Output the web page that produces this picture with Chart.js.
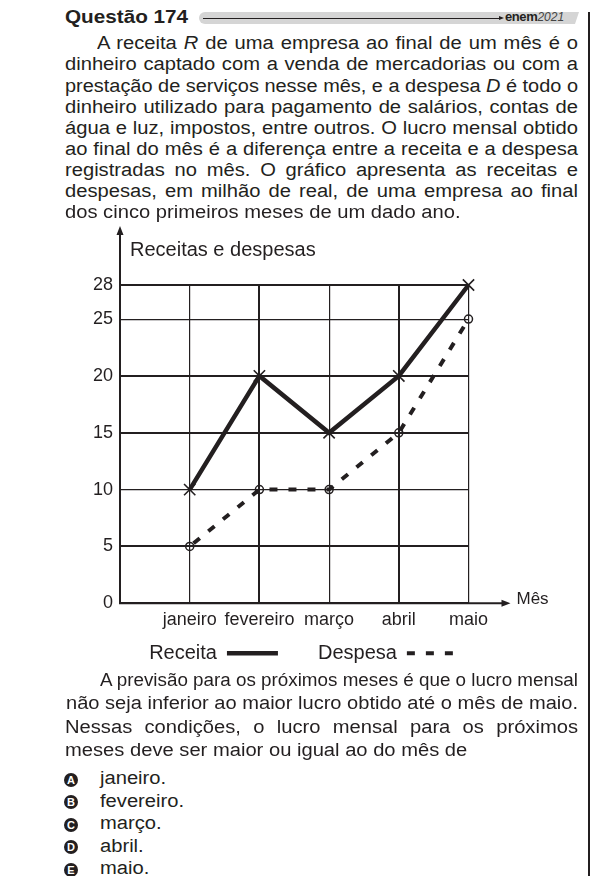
<!DOCTYPE html>
<html lang="pt-BR">
<head>
<meta charset="utf-8">
<title>Questão 174</title>
<script src="https://cdn.jsdelivr.net/npm/chart.js@4.4.1/dist/chart.umd.min.js"></script>
<style>
  html, body { margin: 0; padding: 0; background: #fff; }
  body { width: 591px; height: 876px; position: relative; overflow: hidden;
         font-family: "Liberation Sans", Arial, sans-serif; color: #231f20; }
  .ln { position: absolute; white-space: nowrap; font-size: 18px; line-height: 21px; transform-origin: 0 0; }
  .ln.bold { font-weight: bold; }
  .badge { position: absolute; left: 64px; width: 14px; height: 14px; border-radius: 50%;
           background: #231f20; color: #fff; font-weight: bold; font-size: 11px;
           line-height: 14px; text-align: center; }
  #band { position: absolute; left: 199px; top: 12px; width: 380px; height: 12px; background: #d5d5d5;
          border-radius: 6px 0 0 6px; clip-path: polygon(0 0, 100% 0, calc(100% - 4px) 100%, 0 100%); }
  #rule { position: absolute; left: 203px; top: 17.5px; width: 296px; height: 1px; background: #231f20; }
  #ruleTip { position: absolute; left: 499px; top: 15.5px; width: 0; height: 0;
             border-left: 5px solid #231f20; border-top: 2.5px solid transparent; border-bottom: 2.5px solid transparent; }
  #enem { position: absolute; left: 505px; top: 10px; font-size: 13px; line-height: 13px; white-space: nowrap; }
  #enem b { letter-spacing: -0.4px; }
  #enem i { font-size: 12px; color: #444; }
  #edge { position: absolute; left: 588px; top: 12px; width: 2px; height: 864px; background: #231f20; }
  #grafico { position: absolute; left: 0; top: 220px; }
</style>
</head>
<body>
<div id="band"></div>
<div id="rule"></div>
<div id="ruleTip"></div>
<div id="enem"><b>enem</b><i>2021</i></div>
<div id="edge"></div>
<canvas id="grafico" width="591" height="460"></canvas>

<script>
// chart data
const months = ['janeiro', 'fevereiro', 'março', 'abril', 'maio'];
const receita = [10, 20, 15, 20, 28];
const despesa = [5, 10, 10, 15, 25];
const yTicks = [0, 5, 10, 15, 20, 25, 28];

// style
const ink = '#231f20';
const font = '"Liberation Sans", Arial, sans-serif';
const thickY = [0, 5, 15, 20, 28];
const thickX = [0, 2, 4];

// page text: [html, left, baseline, justified, max stretch, bold]
const RIGHT = 578;
const textLines = [
  ['Questão 174', 65, 24, false, 1.15, true],
  ['A receita <i>R</i> de uma empresa ao final de um mês é o', 97, 50, true],
  ['dinheiro captado com a venda de mercadorias ou com a', 65, 71.1, true],
  ['prestação de serviços nesse mês, e a despesa <i>D</i> é todo o', 65, 92.2, true],
  ['dinheiro utilizado para pagamento de salários, contas de', 65, 113.3, true],
  ['água e luz, impostos, entre outros. O lucro mensal obtido', 65, 134.4, true],
  ['ao final do mês é a diferença entre a receita e a despesa', 65, 155.5, true],
  ['registradas no mês. O gráfico apresenta as receitas e', 65, 176.6, true],
  ['despesas, em milhão de real, de uma empresa ao final', 65, 197.7, true],
  ['dos cinco primeiros meses de um dado ano.', 65, 218.8, false],
  ['A previsão para os próximos meses é que o lucro mensal', 100, 686.7, true],
  ['não seja inferior ao maior lucro obtido até o mês de maio.', 66, 709.5, false],
  ['Nessas condições, o lucro mensal para os próximos', 65, 734, true],
  ['meses deve ser maior ou igual ao do mês de', 65, 756.5, false],
  ['janeiro.', 100, 785, false],
  ['fevereiro.', 100, 807.5, false],
  ['março.', 100, 830, false],
  ['abril.', 100, 852.5, false],
  ['maio.', 100, 875, false]
];
const badges = [['A', 785], ['B', 807.5], ['C', 830], ['D', 852.5], ['E', 875]];

function placeLine([html, x, base, justify, maxS, bold]) {
  const d = document.createElement('div');
  d.className = bold ? 'ln bold' : 'ln';
  d.innerHTML = html;
  d.style.left = x + 'px';
  d.style.top = (base - 16.7) + 'px';
  document.body.appendChild(d);
  const natural = d.getBoundingClientRect().width;
  const avail = RIGHT - x;
  const s = Math.min(maxS || 1.12, avail / natural);
  if (justify) {
    const spaces = (d.textContent.match(/ /g) || []).length;
    if (spaces) d.style.wordSpacing = ((avail / s - natural) / spaces) + 'px';
  }
  d.style.transform = 'scaleX(' + s + ')';
}
textLines.forEach(placeLine);

badges.forEach(([letter, base]) => {
  const b = document.createElement('div');
  b.className = 'badge';
  b.textContent = letter;
  b.style.top = (base - 12.5) + 'px';
  document.body.appendChild(b);
});

// axes with arrows, axis titles
const axisArrows = {
  id: 'axisArrows',
  afterDraw(chart) {
    const {ctx, chartArea: a, scales: {x, y}} = chart;
    const x0 = x.getPixelForValue(0), y0 = y.getPixelForValue(0);
    const topTip = a.top - 59, rightTip = a.right + 42;
    ctx.save();
    ctx.strokeStyle = ink;
    ctx.fillStyle = ink;
    ctx.lineWidth = 2;
    ctx.beginPath();
    ctx.moveTo(x0, y0 + 1); ctx.lineTo(x0, topTip + 6);
    ctx.moveTo(x0 - 1, y0); ctx.lineTo(rightTip - 6, y0);
    ctx.stroke();
    ctx.beginPath();
    ctx.moveTo(x0, topTip); ctx.lineTo(x0 - 3.5, topTip + 9); ctx.lineTo(x0 + 3.5, topTip + 9); ctx.closePath();
    ctx.moveTo(rightTip, y0); ctx.lineTo(rightTip - 9, y0 - 3.5); ctx.lineTo(rightTip - 9, y0 + 3.5); ctx.closePath();
    ctx.fill();
    ctx.textAlign = 'left';
    ctx.textBaseline = 'alphabetic';
    ctx.font = '20px ' + font;
    ctx.fillText('Receitas e despesas', x0 + 10, a.top - 29);
    ctx.font = '17px ' + font;
    ctx.fillText('Mês', rightTip + 6, y0 + 1);
    ctx.restore();
  }
};

// legend samples follow the dataset line, not the point marker
const lineLegend = chart =>
  Chart.defaults.plugins.legend.labels.generateLabels(chart).map(item => {
    const ds = chart.data.datasets[item.datasetIndex];
    return Object.assign(item, {
      lineWidth: ds.borderWidth,
      lineDash: ds.borderDash || [],
      lineDashOffset: 0,
      lineCap: 'butt',
      strokeStyle: ds.borderColor,
      fillStyle: 'rgba(0,0,0,0)',
      pointStyle: 'line'
    });
  });

const config = {
  type: 'line',
  data: {
    datasets: [{
      label: 'Receita',
      data: receita.map((v, i) => ({x: i + 1, y: v})),
      borderColor: ink,
      backgroundColor: ink,
      borderWidth: 4.5,
      borderJoinStyle: 'miter',
      tension: 0,
      pointStyle: 'crossRot',
      pointRadius: 8,
      pointBorderWidth: 1.6,
      pointBorderColor: ink,
      clip: false
    }, {
      label: 'Despesa',
      data: despesa.map((v, i) => ({x: i + 1, y: v})),
      borderColor: ink,
      backgroundColor: 'rgba(0,0,0,0)',
      borderWidth: 4,
      borderDash: [8, 11],
      borderDashOffset: 14,
      tension: 0,
      pointStyle: 'circle',
      pointRadius: 4,
      pointBorderWidth: 1.5,
      pointBorderColor: ink,
      pointBackgroundColor: 'rgba(0,0,0,0)',
      clip: false
    }]
  },
  options: {
    responsive: false,
    animation: false,
    events: [],
    layout: { padding: { left: 16, right: 0, top: 65, bottom: 6.7 } },
    plugins: {
      tooltip: { enabled: false },
      title: { display: false },
      legend: {
        position: 'bottom',
        align: 'center',
        rtl: true,
        reverse: true,
        labels: {
          usePointStyle: true,
          pointStyle: 'line',
          pointStyleWidth: 51,
          padding: 40,
          color: ink,
          font: { family: font, size: 20 },
          generateLabels: lineLegend
        }
      }
    },
    scales: {
      x: {
        type: 'linear',
        min: 0,
        max: 5,
        afterFit: s => { s.height = 0; },
        border: { display: false },
        grid: {
          color: ink,
          lineWidth: c => thickX.includes(c.tick.value) ? 2 : 1.2,
          drawTicks: false
        },
        ticks: {
          stepSize: 1,
          autoSkip: false,
          maxRotation: 0,
          // mirror keeps the labels from being clipped to the zero-height axis box
          mirror: true,
          padding: -28,
          color: ink,
          font: { family: font, size: 18 },
          callback: v => months[v - 1] || ''
        }
      },
      y: {
        type: 'linear',
        min: 0,
        max: 28,
        afterBuildTicks: s => { s.ticks = yTicks.map(v => ({value: v})); },
        afterFit: s => { s.width = 104; },
        border: { display: false },
        grid: {
          color: ink,
          lineWidth: c => thickY.includes(c.tick.value) ? 2 : 1.2,
          drawTicks: false
        },
        ticks: {
          padding: 7,
          color: ink,
          font: { family: font, size: 18 }
        }
      },
      y2: {
        type: 'linear',
        position: 'right',
        display: true,
        border: { display: false },
        grid: { display: false },
        ticks: { display: false },
        afterFit: s => { s.width = 122.5; }
      }
    }
  },
  plugins: [axisArrows]
};
new Chart(document.getElementById('grafico'), config);
</script>
</body>
</html>
